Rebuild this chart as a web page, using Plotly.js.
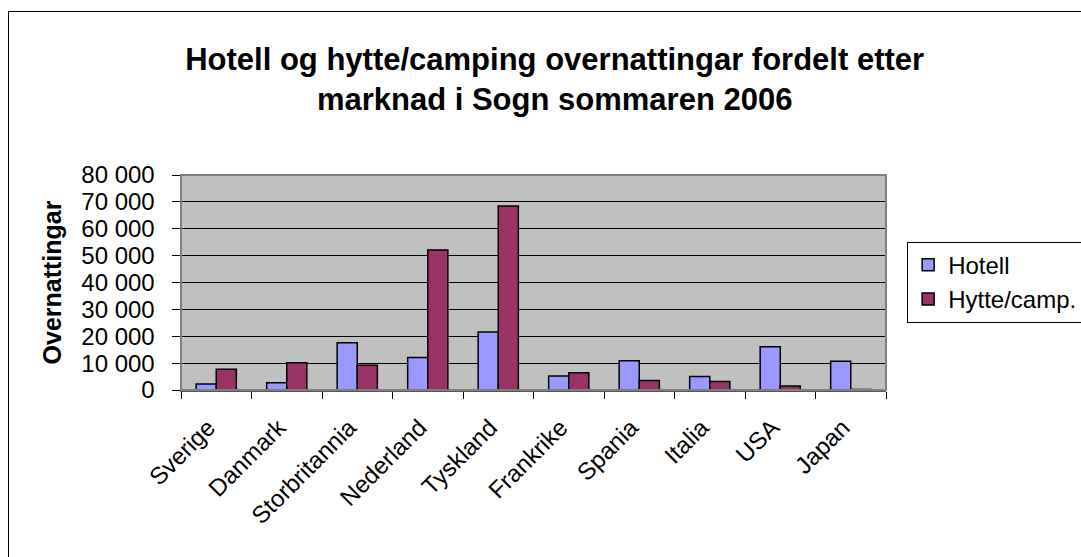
<!DOCTYPE html>
<html>
<head>
<meta charset="utf-8">
<script src="https://cdn.plot.ly/plotly-3.0.1.min.js"></script>
<style>
  html, body { margin: 0; padding: 0; background: #fff; overflow: hidden; }
  #chart { width: 1081px; height: 557px; }
  /* chart-area frame, cut off at the right and bottom like the source */
  #frame {
    position: absolute; left: 8px; top: 11px;
    width: 1200px; height: 700px;
    border: 1px solid #000; pointer-events: none;
  }
</style>
</head>
<body>
<div id="chart"></div>
<div id="frame"></div>
<script>
// Overnattingar per marknad, sommaren 2006
const markets = ['Sverige', 'Danmark', 'Storbritannia', 'Nederland', 'Tyskland',
                 'Frankrike', 'Spania', 'Italia', 'USA', 'Japan'];
const hotell = [2200, 2700, 17600, 12100, 21600, 5200, 10900, 5000, 16100, 10700];
const hytteCamp = [7700, 10100, 9200, 52100, 68500, 6400, 3500, 3200, 1500, 200];

const font = 'Liberation Sans, Arial, sans-serif';

const traces = [
    {
        x: markets,
        y: hotell,
        type: 'bar',
        name: 'Hotell',
        marker: { color: '#9999FF', line: { color: '#000', width: 1.5 } }
    },
    {
        x: markets,
        y: hytteCamp,
        type: 'bar',
        name: 'Hytte/camp.',
        marker: { color: '#993366', line: { color: '#000', width: 1.5 } }
    }
];

const layout = {
    width: 1081,
    height: 557,
    // fixed plot area; the legend is allowed to run past the right edge
    margin: { l: 181, r: 195, t: 175, b: 167, autoexpand: false },
    paper_bgcolor: '#fff',
    plot_bgcolor: '#C0C0C0',
    font: { family: font, size: 24, color: '#000' },
    separators: ', ',
    barmode: 'group',
    bargap: 0.43,
    bargroupgap: 0,
    title: {
        text: 'Hotell og hytte/camping overnattingar fordelt etter<br>marknad i Sogn sommaren 2006',
        font: { family: font, size: 31, color: '#000', weight: 'bold' },
        xref: 'paper', x: 0.53, xanchor: 'center',
        yref: 'container', y: 0.874, yanchor: 'middle'
    },
    xaxis: {
        type: 'category',
        tickangle: -45,
        tickson: 'boundaries',
        ticks: 'outside',
        ticklen: 7,
        tickcolor: '#000',
        ticklabelstandoff: 12,
        ticklabelshift: -8,
        showline: true,
        linecolor: '#555',
        linewidth: 2,
        showgrid: false,
        tickfont: { size: 24 },
        fixedrange: true
    },
    yaxis: {
        range: [0, 80000],
        dtick: 10000,
        tickformat: ',d',
        ticks: 'outside',
        ticklen: 8,
        tickcolor: '#000',
        ticklabelstandoff: 12,
        showline: true,
        linecolor: '#333',
        linewidth: 1.5,
        showgrid: true,
        gridcolor: '#000',
        gridwidth: 1,
        zeroline: false,
        tickfont: { size: 24 },
        title: { text: 'Overnattingar', font: { size: 25, weight: 'bold' }, standoff: 12 },
        fixedrange: true
    },
    shapes: [
        // grey frame round the plot area
        { type: 'rect', xref: 'paper', yref: 'paper', x0: 0, x1: 1, y0: 0, y1: 1,
          line: { color: '#808080', width: 2 }, fillcolor: 'rgba(0,0,0,0)', layer: 'above' }
    ],
    legend: {
        x: 1.03, xanchor: 'left',
        y: 0.69, yanchor: 'top',
        bgcolor: '#fff',
        bordercolor: '#000',
        borderwidth: 1,
        font: { size: 24 },
        itemwidth: 30,
        tracegroupgap: 0
    },
    showlegend: true
};

Plotly.newPlot('chart', traces, layout, { displayModeBar: false, staticPlot: true });
</script>
</body>
</html>
